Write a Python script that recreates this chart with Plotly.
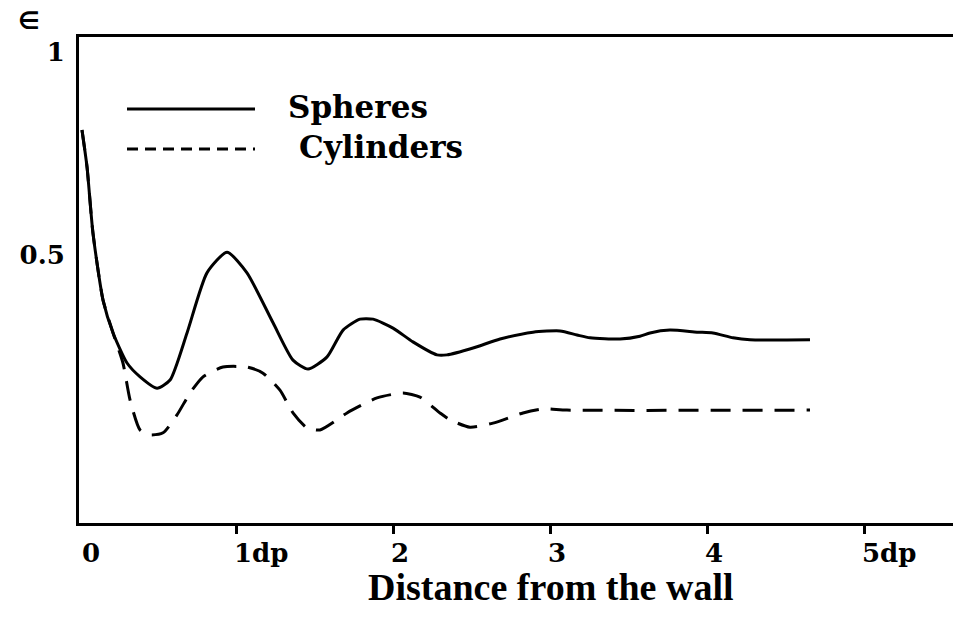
import plotly.graph_objects as go

# Voidage profile vs. distance from the wall (in particle diameters)
sph_x = [0.019, 0.051, 0.089, 0.153, 0.217, 0.306, 0.389, 0.497, 0.580, 0.688,
         0.815, 0.943, 1.070, 1.236, 1.363, 1.459, 1.580, 1.682, 1.790, 1.873,
         2.000, 2.127, 2.280, 2.344, 2.510, 2.682, 2.892, 3.064, 3.172, 3.255,
         3.446, 3.573, 3.637, 3.764, 3.936, 4.038, 4.166, 4.274, 4.656]
sph_y = [0.808, 0.717, 0.554, 0.389, 0.308, 0.234, 0.200, 0.172, 0.192, 0.308,
         0.456, 0.507, 0.456, 0.333, 0.241, 0.219, 0.249, 0.315, 0.342, 0.342,
         0.320, 0.286, 0.254, 0.254, 0.271, 0.293, 0.310, 0.313, 0.303, 0.296,
         0.293, 0.300, 0.308, 0.315, 0.310, 0.308, 0.296, 0.291, 0.291]

cyl_x = [0.019, 0.051, 0.089, 0.153, 0.217, 0.280, 0.325, 0.389, 0.452, 0.535,
         0.624, 0.707, 0.790, 0.917, 1.070, 1.172, 1.280, 1.363, 1.452, 1.535,
         1.643, 1.707, 1.898, 2.064, 2.172, 2.299, 2.363, 2.490, 2.637, 2.828,
         2.955, 3.108, 4.656]
cyl_y = [0.808, 0.717, 0.554, 0.389, 0.308, 0.234, 0.143, 0.069, 0.057, 0.062,
         0.106, 0.160, 0.200, 0.224, 0.224, 0.209, 0.167, 0.111, 0.074, 0.069,
         0.094, 0.111, 0.148, 0.160, 0.150, 0.111, 0.094, 0.076, 0.086, 0.111,
         0.121, 0.118, 0.118]

x_tick_vals = [0, 1, 2, 3, 4, 5]
x_tick_text = ["0", "1dp", "2", "3", "4", "5dp"]
y_tick_vals = [0.5, 1]
y_tick_text = ["0.5", "1"]

series_names = ["Spheres", "Cylinders"]

W, H = 953, 622
L, R, T, B = 79, 0, 37, 99
PW, PH = W - L - R, H - T - B

BOLD_WIDE = "DejaVu Serif"
BOLD_TIMES = "Liberation Serif"


def px(x):
    return (x - L) / PW


def py(y):
    return (H - B - y) / PH


fig = go.Figure()
fig.add_trace(go.Scatter(x=sph_x, y=sph_y, mode="lines", name=series_names[0],
                         line=dict(color="black", width=3, shape="spline", smoothing=0.6)))
fig.add_trace(go.Scatter(x=cyl_x, y=cyl_y, mode="lines", name=series_names[1],
                         line=dict(color="black", width=3, dash="20px,12px",
                                   shape="spline", smoothing=0.6)))

annotations = []
# x tick labels, left-aligned on their ticks
for v, t in zip(x_tick_vals, x_tick_text):
    annotations.append(dict(x=v, xref="x", y=0, yref="paper", text=f"<b>{t}</b>",
                            xanchor="left", yanchor="middle", showarrow=False,
                            xshift=-4 if v else 1, yshift=-30,
                            font=dict(family=BOLD_WIDE, size=26, color="black")))

# axis title and symbol
annotations.append(dict(x=px(551), y=py(587), xref="paper", yref="paper",
                        text="<b>Distance from the wall</b>", showarrow=False,
                        xanchor="center", yanchor="middle",
                        font=dict(family=BOLD_TIMES, size=38, color="black")))
annotations.append(dict(x=px(29), y=py(21), xref="paper", yref="paper",
                        text="<b>∈</b>", showarrow=False, xanchor="center", yanchor="middle",
                        font=dict(family="DejaVu Sans", size=24, color="black")))

# legend
legend_rows = [(109, 286, "solid"), (149, 297, "11px,7px")]
shapes = []
for (ly, tx, dash), name in zip(legend_rows, series_names):
    shapes.append(dict(type="line", xref="paper", yref="paper",
                       x0=px(127), x1=px(255), y0=py(ly), y1=py(ly),
                       line=dict(color="black", width=3, dash=dash)))
    annotations.append(dict(x=px(tx), y=py(ly - 2), xref="paper", yref="paper",
                            text=f"<b>{name}</b>", showarrow=False,
                            xanchor="left", yanchor="middle",
                            font=dict(family=BOLD_WIDE, size=31, color="black")))

fig.update_layout(
    width=W, height=H,
    margin=dict(l=L, r=R, t=T, b=B, pad=0),
    paper_bgcolor="white", plot_bgcolor="white",
    showlegend=False,
    annotations=annotations, shapes=shapes,
    xaxis=dict(range=[0, (W - L) / 157.0], showgrid=False, zeroline=False,
               showline=True, linecolor="black", linewidth=3, mirror=True,
               tickmode="array", tickvals=x_tick_vals[1:], ticks="outside",
               ticklen=8, tickwidth=3, tickcolor="black", showticklabels=False),
    yaxis=dict(range=[(458 - 523) / 406.0, (458 - 37) / 406.0], showgrid=False,
               zeroline=False, showline=True, linecolor="black", linewidth=3,
               tickmode="array", tickvals=y_tick_vals, ticktext=[f"<b>{t}</b>" for t in y_tick_text],
               ticks="", ticklabelstandoff=6,
               tickfont=dict(family=BOLD_WIDE, size=26, color="black")),
)

fig.write_html("out.html")
